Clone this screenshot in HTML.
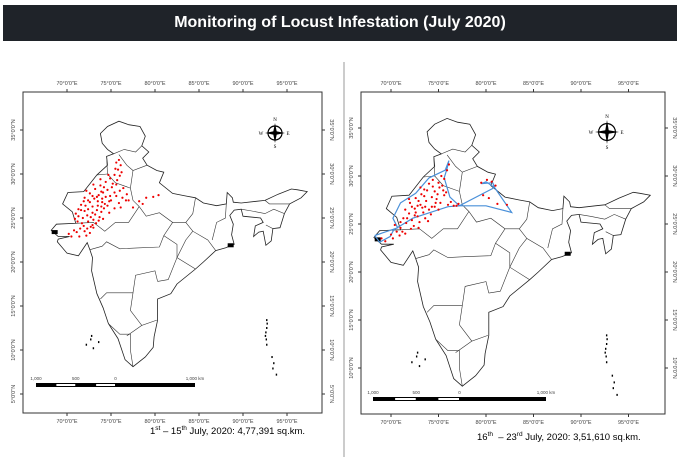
<!DOCTYPE html>
<html><head><meta charset="utf-8"><style>
html,body{margin:0;padding:0;background:#fff;width:680px;height:457px;overflow:hidden;font-family:"Liberation Sans",sans-serif}
#title{position:absolute;left:3px;top:5px;width:674px;height:36px;background:#1f2329;color:#fff;font-size:16px;font-weight:bold;text-align:center;line-height:36px}
.cap{position:absolute;font-size:9.5px;color:#000}
sup{font-size:6.5px}
</style></head><body>
<div id="title">Monitoring of Locust Infestation (July 2020)</div>
<svg id="svg" width="680" height="457" style="position:absolute;left:0;top:0"></svg>
<div class="cap" style="left:150px;top:425px">1<sup>st</sup> – 15<sup>th</sup> July, 2020: 4,77,391 sq.km.</div>
<div class="cap" style="left:477px;top:431px">16<sup>th</sup> &nbsp;– 23<sup>rd</sup> July, 2020: 3,51,610 sq.km.</div>
<script>
const lonTicks=[70,75,80,85,90,95];
const latTicks=[35,30,25,20,15,10,5];
const india=[[73.8,34.6],[74.6,35.4],[75.9,36.0],[77.0,35.6],[78.3,35.4],[78.9,34.3],[78.5,33.2],[79.3,32.5],[78.6,31.8],[79.1,31.0],[80.2,30.4],[81.0,30.2],[80.5,29.0],[82.0,27.8],[83.5,27.5],[84.6,27.3],[85.5,26.7],[87.0,26.4],[88.1,26.6],[88.2,27.9],[88.8,27.3],[88.9,26.8],[89.8,26.7],[91.5,26.9],[92.5,27.0],[94.0,27.7],[95.5,28.3],[96.2,28.2],[97.3,28.0],[96.6,27.3],[95.3,26.6],[94.7,25.5],[94.2,23.9],[93.4,23.8],[93.2,22.4],[92.6,21.9],[92.3,23.5],[91.8,23.4],[91.2,22.9],[91.4,24.1],[92.3,24.5],[92.0,25.0],[90.0,25.2],[89.8,26.0],[89.0,25.9],[88.5,25.3],[88.9,24.3],[88.7,23.1],[89.0,22.0],[88.0,21.6],[86.9,21.3],[85.5,20.0],[84.6,19.2],[82.5,17.5],[81.8,16.4],[80.3,15.8],[80.3,13.4],[79.9,11.5],[79.8,10.3],[78.9,9.2],[77.5,8.1],[76.6,8.9],[75.8,11.3],[74.7,13.0],[74.1,14.8],[73.4,16.4],[72.8,19.0],[72.9,20.5],[72.6,21.4],[72.3,22.2],[71.3,20.7],[70.0,21.0],[68.9,22.3],[69.0,22.6],[70.3,22.9],[69.0,22.9],[68.2,23.6],[68.8,24.3],[71.0,24.4],[70.6,25.7],[69.5,26.6],[70.1,27.9],[71.9,28.0],[73.4,29.9],[74.6,31.0],[74.5,32.0],[75.3,32.3],[74.6,32.8],[74.0,33.5]];
const states=[
[[75.3,32.3],[76.5,32.8],[77.8,32.5],[78.5,33.2]],
[[75.9,32.2],[76.8,31.0],[77.5,30.4],[79.1,31.0]],
[[77.5,30.4],[77.2,28.4],[77.5,27.0],[78.2,26.3],[79.0,25.2],[80.5,25.6],[82.0,24.5],[83.5,24.5],[84.3,25.5],[84.6,27.3]],
[[74.5,32.0],[74.6,30.0],[75.5,29.0],[77.2,28.4]],
[[73.4,29.9],[74.6,30.0]],
[[71.0,24.4],[73.0,24.5],[74.3,23.5],[75.5,24.5],[77.0,24.5],[78.2,26.3]],
[[72.6,21.4],[74.0,21.8],[74.5,22.3],[76.0,21.5],[78.0,21.6],[80.5,21.7],[81.0,23.0],[82.0,24.5]],
[[81.0,23.0],[82.5,22.0],[82.5,20.5],[81.5,18.0],[80.3,17.8]],
[[83.5,24.5],[84.3,23.5],[86.0,22.5],[86.9,21.3]],
[[84.3,23.5],[83.5,22.5],[82.5,20.5],[84.6,19.2]],
[[73.8,15.8],[74.5,16.5],[77.5,16.5],[77.8,18.5],[80.0,19.0],[80.3,17.8]],
[[77.5,16.5],[77.2,14.5],[78.5,12.8],[80.2,13.4]],
[[74.7,13.0],[76.0,11.8],[77.2,11.8],[77.2,10.0],[77.5,8.1]],
[[78.5,12.8],[76.8,11.6]],
[[88.1,26.6],[88.0,25.0],[87.0,24.5],[86.5,22.5]],
[[89.8,26.0],[91.0,25.8],[92.5,25.5],[93.5,26.0],[94.7,25.5]],
[[92.6,24.2],[93.4,23.8]],[[92.5,27.0],[93.0,26.6],[95.3,26.6]]];
const islands=[[92.7,13.4],[92.75,13.0],[92.7,12.5],[92.6,12.0],[92.55,11.6],[92.65,11.2],[92.7,10.6],[93.3,9.2],[93.5,8.5],[93.8,7.2],[93.4,7.9],[72.7,11.2],[72.2,10.6],[73.0,10.2],[72.8,11.6],[73.6,10.9]];
const dotsA=[[70.2,23.2],[70.8,23.6],[71.5,23.8],[72.0,23.5],[72.6,23.3],[73.0,23.9],[71.2,24.6],[71.8,25.0],[72.3,25.3],[72.9,25.6],[73.4,25.9],[73.9,26.3],[74.3,26.6],[74.8,26.9],[71.0,25.5],[71.6,25.9],[72.1,26.4],[72.6,26.8],[73.1,27.2],[73.6,27.6],[74.1,27.9],[74.6,28.2],[75.1,28.5],[75.6,28.8],[72.0,27.3],[72.6,27.8],[73.2,28.3],[73.8,28.7],[74.4,29.1],[74.9,29.5],[75.4,29.9],[75.8,30.5],[76.1,31.0],[75.6,31.3],[74.2,26.1],[74.8,25.6],[75.4,26.1],[75.9,26.7],[76.3,27.3],[76.7,27.0],[72.4,24.6],[73.0,24.8],[73.7,25.1],[71.9,26.9],[73.5,26.4],[74.0,27.2],[74.9,27.5],[75.4,27.9],[76.0,28.1],[72.9,24.2],[77.0,27.0],[77.5,26.2],[78.2,26.9],[79.0,27.3],[79.8,27.4],[80.4,27.6],[78.6,26.6],[71.4,22.9],[72.2,23.0],[73.3,24.4],
[71.3,25.2],[71.7,24.4],[72.0,25.8],[72.4,26.0],[72.7,25.1],[73.2,25.4],[73.5,26.9],[73.9,25.7],[74.4,27.4],[74.6,26.4],[75.0,27.0],[75.2,28.9],[75.7,29.3],[76.0,29.8],[76.2,30.2],[75.5,30.6],[74.2,28.5],[73.9,28.0],[73.4,27.4],[72.9,27.5],[72.4,27.0],[71.6,26.5],[71.3,26.0],[70.9,24.9],[71.1,23.4],[70.5,22.9],[72.7,24.0],[73.6,24.7],[74.1,24.9],[75.6,27.5],[76.4,28.4],[76.1,26.2],[71.9,24.1],[72.3,23.8],[73.8,29.4],[74.7,29.9],[75.9,31.6],[74.0,26.8],[72.9,26.3],[72.2,28.1],[73.0,28.8],[76.8,27.7]];
const dotsB=[[69.4,23.2],[70.2,23.5],[70.9,23.8],[71.5,24.0],[71.0,24.6],[71.6,25.1],[72.2,25.4],[72.8,25.8],[73.4,26.2],[74.0,26.5],[74.6,26.8],[71.3,25.6],[71.9,26.1],[72.5,26.6],[73.1,27.0],[73.7,27.4],[74.3,27.8],[74.9,28.1],[75.5,28.5],[72.0,27.2],[72.6,27.7],[73.2,28.1],[73.8,28.5],[74.4,28.9],[75.0,29.3],[75.6,29.7],[75.9,30.6],[76.1,31.2],[71.2,24.2],[72.4,24.8],[73.0,25.2],[73.6,25.6],[74.2,26.0],[75.2,27.2],[76.0,27.0],[76.6,26.9],[77.1,27.1],[72.8,26.9],[73.5,27.9],[74.8,27.6],[79.7,28.0],[80.3,27.7],[80.1,29.6],[80.6,29.4],[81.0,29.0],[81.2,27.1],[82.2,27.0],[75.6,28.0],
[71.0,25.2],[71.5,26.5],[72.1,24.5],[72.5,25.9],[72.9,24.6],[73.3,26.7],[73.9,25.3],[74.3,26.8],[74.7,27.2],[75.1,28.8],[75.4,29.0],[74.0,29.2],[73.5,28.6],[72.9,27.4],[72.2,26.8],[71.7,25.6],[70.6,24.2],[70.0,23.9],[69.0,23.5],[70.4,24.9],[74.6,28.4],[75.8,28.3],[76.3,27.3],[75.0,26.5],[73.6,26.8],[72.6,26.2],[71.9,27.6],[73.1,28.8],[74.4,29.6],[75.3,30.0],[79.5,29.3],[76.9,26.9]];
const outlineB=[[68.3,23.8],[68.8,23.1],[69.9,23.7],[70.3,24.4],[72.3,25.6],[76.0,26.8],[77.2,26.9],[80.0,26.9],[82.7,26.2],[80.9,28.8],[80.0,29.4],[79.5,29.2],[80.7,29.3],[80.9,28.8],[77.2,26.9],[76.2,27.8],[75.6,29.8],[75.9,30.8],[76.1,31.6],[75.7,30.6],[74.0,29.8],[72.6,28.2],[71.0,27.2],[70.2,25.6],[70.7,24.6],[69.8,24.3],[68.3,23.8]];

const svg=document.getElementById('svg');
const NS='http://www.w3.org/2000/svg';
function mk(t,a,p){const e=document.createElementNS(NS,t);for(const k in a)e.setAttribute(k,a[k]);(p||svg).appendChild(e);return e;}
function drawMap(cfg){
  const g=mk('g',{});
  
  
  const X=l=>cfg.x0+(l-70)*cfg.sx, Y=l=>cfg.y0+(35-l)*cfg.sy;
  const f=mk('rect',{x:cfg.L,y:cfg.T,width:cfg.R-cfg.L,height:cfg.B-cfg.T,fill:'#fff',stroke:'#333','stroke-width':1},g);
  
  lonTicks.forEach(v=>{const x=X(v);
    mk('line',{x1:x,x2:x,y1:cfg.T-3,y2:cfg.T,stroke:'#333'},g);mk('line',{x1:x,x2:x,y1:cfg.B,y2:cfg.B+3,stroke:'#333'},g);
    [cfg.T-7,cfg.B+10].forEach(y=>{const t=mk('text',{x:x,y:y,'font-size':5.5,fill:'#444','text-anchor':'middle'},g);t.textContent=v+'°0\'0"E';
      });});
  latTicks.forEach(v=>{const y=Y(v);if(y<cfg.T||y>cfg.B)return;
    mk('line',{x1:cfg.L-3,x2:cfg.L,y1:y,y2:y,stroke:'#333'},g);mk('line',{x1:cfg.R,x2:cfg.R+3,y1:y,y2:y,stroke:'#333'},g);
    [[cfg.L-8,-90],[cfg.R+8,90]].forEach(([x,r])=>{const t=mk('text',{x:x,y:y,'font-size':5.5,fill:'#444','text-anchor':'middle',transform:`rotate(${r} ${x} ${y})`},g);t.textContent=v+'°0\'0"N';
      });});
  const pts=a=>a.map(p=>X(p[0]).toFixed(1)+','+Y(p[1]).toFixed(1)).join(' ');
  const ind=mk('polygon',{points:pts(india),fill:'#fff',stroke:'#222','stroke-width':0.8},g);
  
  states.forEach(s=>{const l=mk('polyline',{points:pts(s),fill:'none',stroke:'#333','stroke-width':0.6},g);
    });
  [[88.6,21.9],[68.6,23.4]].forEach(p=>mk('rect',{x:X(p[0])-3,y:Y(p[1])-2,width:6,height:4,fill:'#000'},g));
  islands.forEach(p=>mk('rect',{x:X(p[0])-0.7,y:Y(p[1])-1,width:1.4,height:2,fill:'#000'},g));
  if(cfg.outline){const o=mk('polyline',{points:pts(cfg.outline),fill:'none',stroke:'#4a90d9','stroke-width':1.2},g);
    }
  cfg.dots.forEach(p=>{const d=mk('circle',{cx:X(p[0]),cy:Y(p[1]),r:1.1,fill:'#e00'},g);
    });
  const cg=mk('g',{},g);
  const [cx,cy,r]=cfg.comp;
  mk('circle',{cx,cy,r:r*0.7,fill:'none',stroke:'#000','stroke-width':1.2},cg);
  mk('polygon',{points:`${cx},${cy-r} ${cx+2},${cy} ${cx},${cy+r} ${cx-2},${cy}`,fill:'#000'},cg);
  mk('polygon',{points:`${cx-r},${cy} ${cx},${cy-2} ${cx+r},${cy} ${cx},${cy+2}`,fill:'#000'},cg);
  [['N',cx,cy-r-2],['S',cx,cy+r+5],['W',cx-r-4,cy+2],['E',cx+r+3,cy+2]].forEach(([s,x,y])=>{const t=mk('text',{x,y,'font-size':5,'text-anchor':'middle','font-family':'Liberation Serif'},cg);t.textContent=s;});
  const sg=mk('g',{},g);
  const [s0,s1,sy]=cfg.scale;const u=(s1-s0)/8;
  mk('rect',{x:s0,y:sy,width:s1-s0,height:4,fill:'#000'},sg);
  [1,3].forEach(i=>mk('rect',{x:s0+i*u+0.5,y:sy+1,width:u-1,height:2,fill:'#fff'},sg));
  [['1,000',s0],['500',s0+2*u],['0',s0+4*u],['1,000 km',s1]].forEach(([s,x])=>{const t=mk('text',{x,y:sy-3,'font-size':4.5,fill:'#444','text-anchor':'middle'},sg);t.textContent=s;});
}
drawMap({name:'map-july-1-15',L:23,R:322,T:92,B:413,x0:67,y0:130,sx:8.8,sy:8.8,dots:dotsA,comp:[275,133,10],scale:[36,195,383]});
drawMap({name:'map-july-16-23',L:361,R:665,T:92,B:414,x0:391,y0:128,sx:9.5,sy:9.6,dots:dotsB,outline:outlineB,comp:[607,132,12],scale:[373,546,397]});
const dv=mk('line',{x1:344,x2:344,y1:62,y2:457,stroke:'#999','stroke-width':1});

</script>
</body></html>
